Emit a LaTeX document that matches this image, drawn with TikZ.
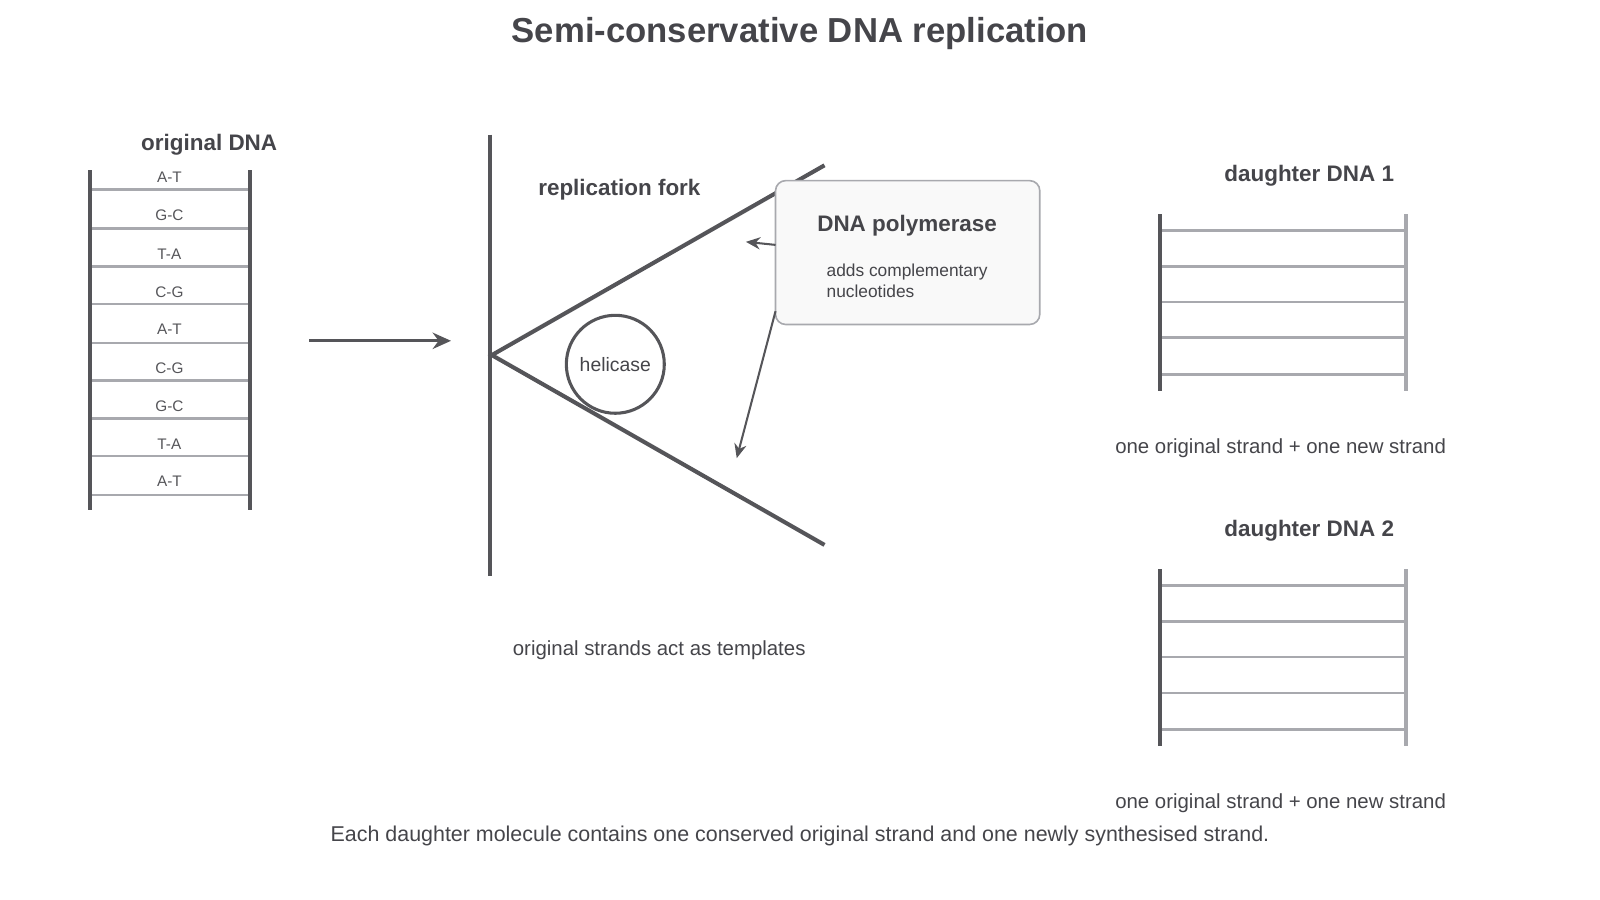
\documentclass[tikz,border=0pt]{standalone}
\usepackage{fontspec}
\setmainfont{Liberation Sans}
\usetikzlibrary{arrows.meta}
\definecolor{dk}{HTML}{555559}
\definecolor{lt}{HTML}{A8A9AE}
\definecolor{tx}{HTML}{45454A}
\begin{document}
\begin{tikzpicture}[x=0.5pt,y=-0.5pt,
 rail/.style={draw=dk,line width=2pt},
 lrail/.style={draw=lt,line width=2pt},
 rung/.style={draw=lt,line width=1.3pt},
 bp/.style={font=\fontsize{7.5}{9}\selectfont,text=dk},
 ttl/.style={font=\bfseries\fontsize{11}{13}\selectfont,text=tx},
 captxt/.style={font=\fontsize{10}{12}\selectfont,text=tx},
 arr/.style={draw=dk,line width=1pt,-{Stealth[length=7pt,width=6pt]}}]
\path[use as bounding box] (0,0) rectangle (1568,882);
\node[font=\bfseries\fontsize{17}{20}\selectfont,text=tx] (title) at (784,33) {Semi-conservative DNA replication};
% original DNA
\node[ttl] (otitle) at (205,142) {original DNA};
\coordinate (la) at (88,167); \coordinate (lb) at (88,500);
\coordinate (ra) at (245,167); \coordinate (rb) at (245,500);
\foreach \y/\t/\ly in {186/A-T/174,224/G-C/211,261/T-A/249,298/C-G/286,336/A-T/323,373/C-G/361,410/G-C/398,447/T-A/435,485/A-T/472}{
 \draw[rung] (88,\y) -- (245,\y);
 \node[bp] at (166,\ly) {\t};}
\draw[rail] (la) -- (lb); \draw[rail] (ra) -- (rb);
\coordinate (a1) at (303,334); \coordinate (a2) at (442,334);
\draw[draw=dk,line width=1.6pt,-{Stealth[length=9pt,width=8pt]}] (a1) -- (a2);
% fork
\coordinate (v1) at (480,132); \coordinate (v2) at (480,564);
\coordinate (f0) at (482,348); \coordinate (fu) at (808,162); \coordinate (fd) at (808,534);
\draw[rail] (v1) -- (v2);
\draw[rail] (fu) -- (f0) -- (fd);
\node[ttl] (rf) at (607,186) {replication fork};
\node[circle,draw=dk,line width=1.5pt,minimum size=48pt,fill=white,text=tx,font=\fontsize{9.5}{11}\selectfont] (hel) at (603,357) {helicase};
\node[draw=lt,line width=0.8pt,rounded corners=5pt,fill=gray!5,minimum width=129.5pt,minimum height=70.5pt] (box) at (889.5,247.5) {};
\node[ttl] at (889,221) {DNA polymerase};
\node[anchor=west,align=left,font=\fontsize{8.5}{10.5}\selectfont,text=tx] at (803,275) {adds complementary\\nucleotides};
\coordinate (p1) at (760,240); \coordinate (p1e) at (731,237);
\coordinate (p2) at (760,305); \coordinate (p2e) at (722,449);
\draw[arr] (p1) -- (p1e);
\draw[arr] (p2) -- (p2e);
\node[captxt] (tmpl) at (646,637) {original strands act as templates};
% daughters
\foreach \o/\n in {0/1,348/2}{
 \node[ttl] at (1283,172+\o) {daughter DNA \n};
 \foreach \y in {226,261,296,331,367} \draw[rung] (1137,\y+\o) -- (1378,\y+\o);
 \draw[rail] (1137,210+\o) -- (1137,383+\o);
 \draw[lrail] (1378,210+\o) -- (1378,383+\o);
 \node[captxt] at (1255,439+\o) {one original strand + one new strand};}
\node[captxt,font=\fontsize{10.5}{12}\selectfont] (foot) at (784,819) {Each daughter molecule contains one conserved original strand and one newly synthesised strand.};
\end{tikzpicture}
\end{document}
